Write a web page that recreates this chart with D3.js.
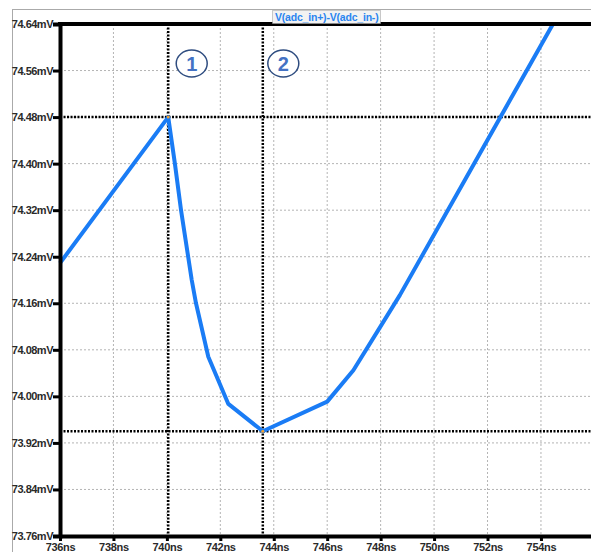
<!DOCTYPE html>
<html>
<head>
<meta charset="utf-8">
<script src="https://cdn.jsdelivr.net/npm/d3@7"></script>
<style>
  body { margin: 0; background: #fff; }
  svg { display: block; font-family: Arial, "Liberation Sans", sans-serif; }
</style>
</head>
<body>
<svg width="591" height="552"></svg>
<script>
// waveform samples
var timesNs = [736, 740.05, 740.3, 740.53, 740.93, 741.09, 741.55, 742.3, 743.59, 746.0, 746.98, 747.98, 748.72, 754.45]
var voltsMv = [74.229, 74.48, 74.40, 74.32, 74.20, 74.16, 74.068, 73.987, 73.94, 73.991, 74.045, 74.119, 74.174, 74.64]

var xTicks = [736, 738, 740, 742, 744, 746, 748, 750, 752, 754]
var yTicks = [73.76, 73.84, 73.92, 74.00, 74.08, 74.16, 74.24, 74.32, 74.40, 74.48, 74.56, 74.64]

// cursors
var cursorTimes = [740.05, 743.59]
var cursorVolts = [74.48, 73.94]
var cursorNames = ['1', '2']

var traceName = 'V(adc_in+)-V(adc_in-)'

var svg = d3.select('svg')

var x = d3.scaleLinear().domain([736, 756]).range([60, 594.4])
var y = d3.scaleLinear().domain([73.76, 74.64]).range([536, 24])

// window frame
svg.append('line').attr('x1', 12).attr('x2', 591).attr('y1', 9.5).attr('y2', 9.5)
    .attr('stroke', '#aaa').attr('stroke-width', 1)
svg.append('line').attr('x1', 12.5).attr('x2', 12.5).attr('y1', 9).attr('y2', 552)
    .attr('stroke', '#aaa').attr('stroke-width', 1)

// grid
svg.append('g').selectAll('line')
    .data(xTicks.filter(d => d > 736))
    .enter().append('line')
    .attr('x1', d => x(d)).attr('x2', d => x(d))
    .attr('y1', 24).attr('y2', 536)
    .attr('stroke', '#b4b4b4').attr('stroke-width', 1).attr('stroke-dasharray', '2,2')

svg.append('g').selectAll('line')
    .data(yTicks.filter(d => d > 73.76 && d < 74.64))
    .enter().append('line')
    .attr('x1', 60).attr('x2', 591)
    .attr('y1', d => y(d)).attr('y2', d => y(d))
    .attr('stroke', '#b4b4b4').attr('stroke-width', 1).attr('stroke-dasharray', '2,2')

// cursor lines
var cur = svg.append('g')
cursorTimes.forEach((t, i) => {
    cur.append('line')
        .attr('x1', x(t)).attr('x2', x(t)).attr('y1', 24).attr('y2', 536)
        .attr('stroke', '#000').attr('stroke-width', 2.5).attr('stroke-dasharray', '2,1.5')
    cur.append('line')
        .attr('x1', 60).attr('x2', 591).attr('y1', y(cursorVolts[i])).attr('y2', y(cursorVolts[i]))
        .attr('stroke', '#000').attr('stroke-width', 2.5).attr('stroke-dasharray', '2,1.5')
})

// trace
var line = d3.line()
    .x((d, i) => x(timesNs[i]))
    .y((d, i) => y(voltsMv[i]))

svg.append('path')
    .datum(timesNs)
    .attr('d', line)
    .attr('fill', 'none')
    .attr('stroke', '#1a7cf5')
    .attr('stroke-width', 4)
    .attr('stroke-linejoin', 'round')

// cursor markers
cursorTimes.forEach((t, i) => {
    svg.append('circle').attr('cx', x(t)).attr('cy', y(cursorVolts[i])).attr('r', 1.5).attr('fill', '#f0a030')
})

// axes
var yAxis = d3.axisLeft(y)
    .tickValues(yTicks)
    .tickFormat(d => d.toFixed(2) + 'mV')
    .tickSize(7)
    .tickPadding(0)

var yg = svg.append('g')
    .attr('id', 'y-axis')
    .attr('transform', 'translate(60, 0)')
    .call(yAxis)
yg.select('.domain').attr('stroke-width', 4)
yg.selectAll('.tick line').attr('stroke-width', 3)
yg.selectAll('.tick text')
    .attr('font-size', 11).attr('font-weight', 'bold').attr('fill', '#2a2a2a').attr('letter-spacing', -0.5)

var xAxis = d3.axisBottom(x)
    .tickValues(xTicks)
    .tickFormat(d => d + 'ns')
    .tickSize(5)
    .tickSizeOuter(0)
    .tickPadding(2)

var xg = svg.append('g')
    .attr('id', 'x-axis')
    .attr('transform', 'translate(0, 536)')
    .call(xAxis)
xg.select('.domain').attr('stroke-width', 4)
xg.selectAll('.tick line').attr('stroke-width', 3)
xg.selectAll('.tick text')
    .attr('font-size', 11).attr('font-weight', 'bold').attr('fill', '#2a2a2a').attr('letter-spacing', -0.3)

// top border
svg.append('line').attr('x1', 58).attr('x2', 591).attr('y1', 24).attr('y2', 24)
    .attr('stroke', '#000').attr('stroke-width', 4)

// trace name box
svg.append('rect').attr('x', 272.5).attr('y', 10.5).attr('width', 108).attr('height', 13)
    .attr('fill', '#f2f2f2').attr('stroke', '#999').attr('stroke-dasharray', '1,1')
svg.append('text').attr('x', 275).attr('y', 21)
    .attr('font-size', 10.5).attr('font-weight', 'bold').attr('fill', '#2a85f0')
    .attr('letter-spacing', -0.2)
    .text(traceName)

// numbered callouts
cursorTimes.forEach((t, i) => {
    var cx = x(t) + (i == 0 ? 23.5 : 20.5)
    svg.append('ellipse').attr('cx', cx).attr('cy', 63.5).attr('rx', 15.5).attr('ry', 13.5)
        .attr('fill', '#fff').attr('stroke', '#2f4d80').attr('stroke-width', 1.5)
    svg.append('text').attr('x', cx).attr('y', 70.5).attr('text-anchor', 'middle')
        .attr('font-size', 20).attr('font-weight', 'bold').attr('fill', '#4472c4')
        .text(cursorNames[i])
})
</script>
</body>
</html>
